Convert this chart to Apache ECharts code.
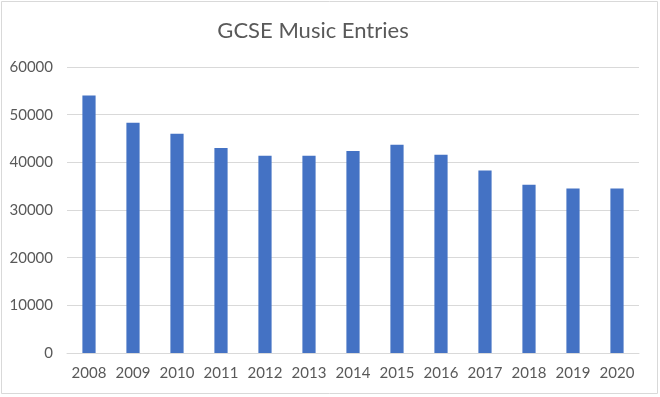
<!DOCTYPE html>
<html>
<head>
<meta charset="utf-8">
<script src="https://cdn.jsdelivr.net/npm/echarts@6/dist/echarts.min.js"></script>
<style>html,body{margin:0;padding:0;background:#fff;}#c{width:660px;height:397px;}</style>
</head>
<body>
<div id="c"></div>
<script>
const categories = ['2008','2009','2010','2011','2012','2013','2014','2015','2016','2017','2018','2019','2020'];
const entries = [54000, 48300, 46000, 43000, 41400, 41400, 42400, 43700, 41600, 38300, 35300, 34500, 34500];
const yTicks = [0, 10000, 20000, 30000, 40000, 50000, 60000];

const chart = echarts.init(document.getElementById('c'), null, {renderer: 'canvas'});
chart.setOption({
  animation: false,
  backgroundColor: '#ffffff',
  graphic: [{
    type: 'rect', shape: {x: 1.5, y: 1.5, width: 656, height: 392},
    style: {fill: 'none', stroke: '#d9d9d9', lineWidth: 1}, silent: true
  }, {
    type: 'text', x: 313, y: 31, silent: true,
    style: {text: 'GCSE Music Entries', align: 'center', verticalAlign: 'middle',
      fontFamily: 'Lato', fontSize: 22, fill: '#595959'}
  }],
  grid: {left: 67, right: 21, top: 67, bottom: 44, containLabel: false},
  xAxis: {
    type: 'category', data: categories,
    axisLine: {show: true, lineStyle: {color: '#d9d9d9', width: 1}},
    axisTick: {show: false},
    axisLabel: {color: '#595959', fontFamily: 'Lato', fontSize: 15, margin: 13,
      interval: 0, hideOverlap: false}
  },
  yAxis: {
    type: 'value', min: yTicks[0], max: yTicks[yTicks.length - 1], interval: 10000,
    axisLine: {show: false}, axisTick: {show: false},
    splitLine: {lineStyle: {color: '#d9d9d9', width: 1}},
    axisLabel: {color: '#595959', fontFamily: 'Lato', fontSize: 15, margin: 14,
      formatter: v => String(v)}
  },
  series: [{
    type: 'bar', data: entries, barWidth: '30%',
    itemStyle: {color: '#4472c4'}
  }]
});
</script>
</body>
</html>
